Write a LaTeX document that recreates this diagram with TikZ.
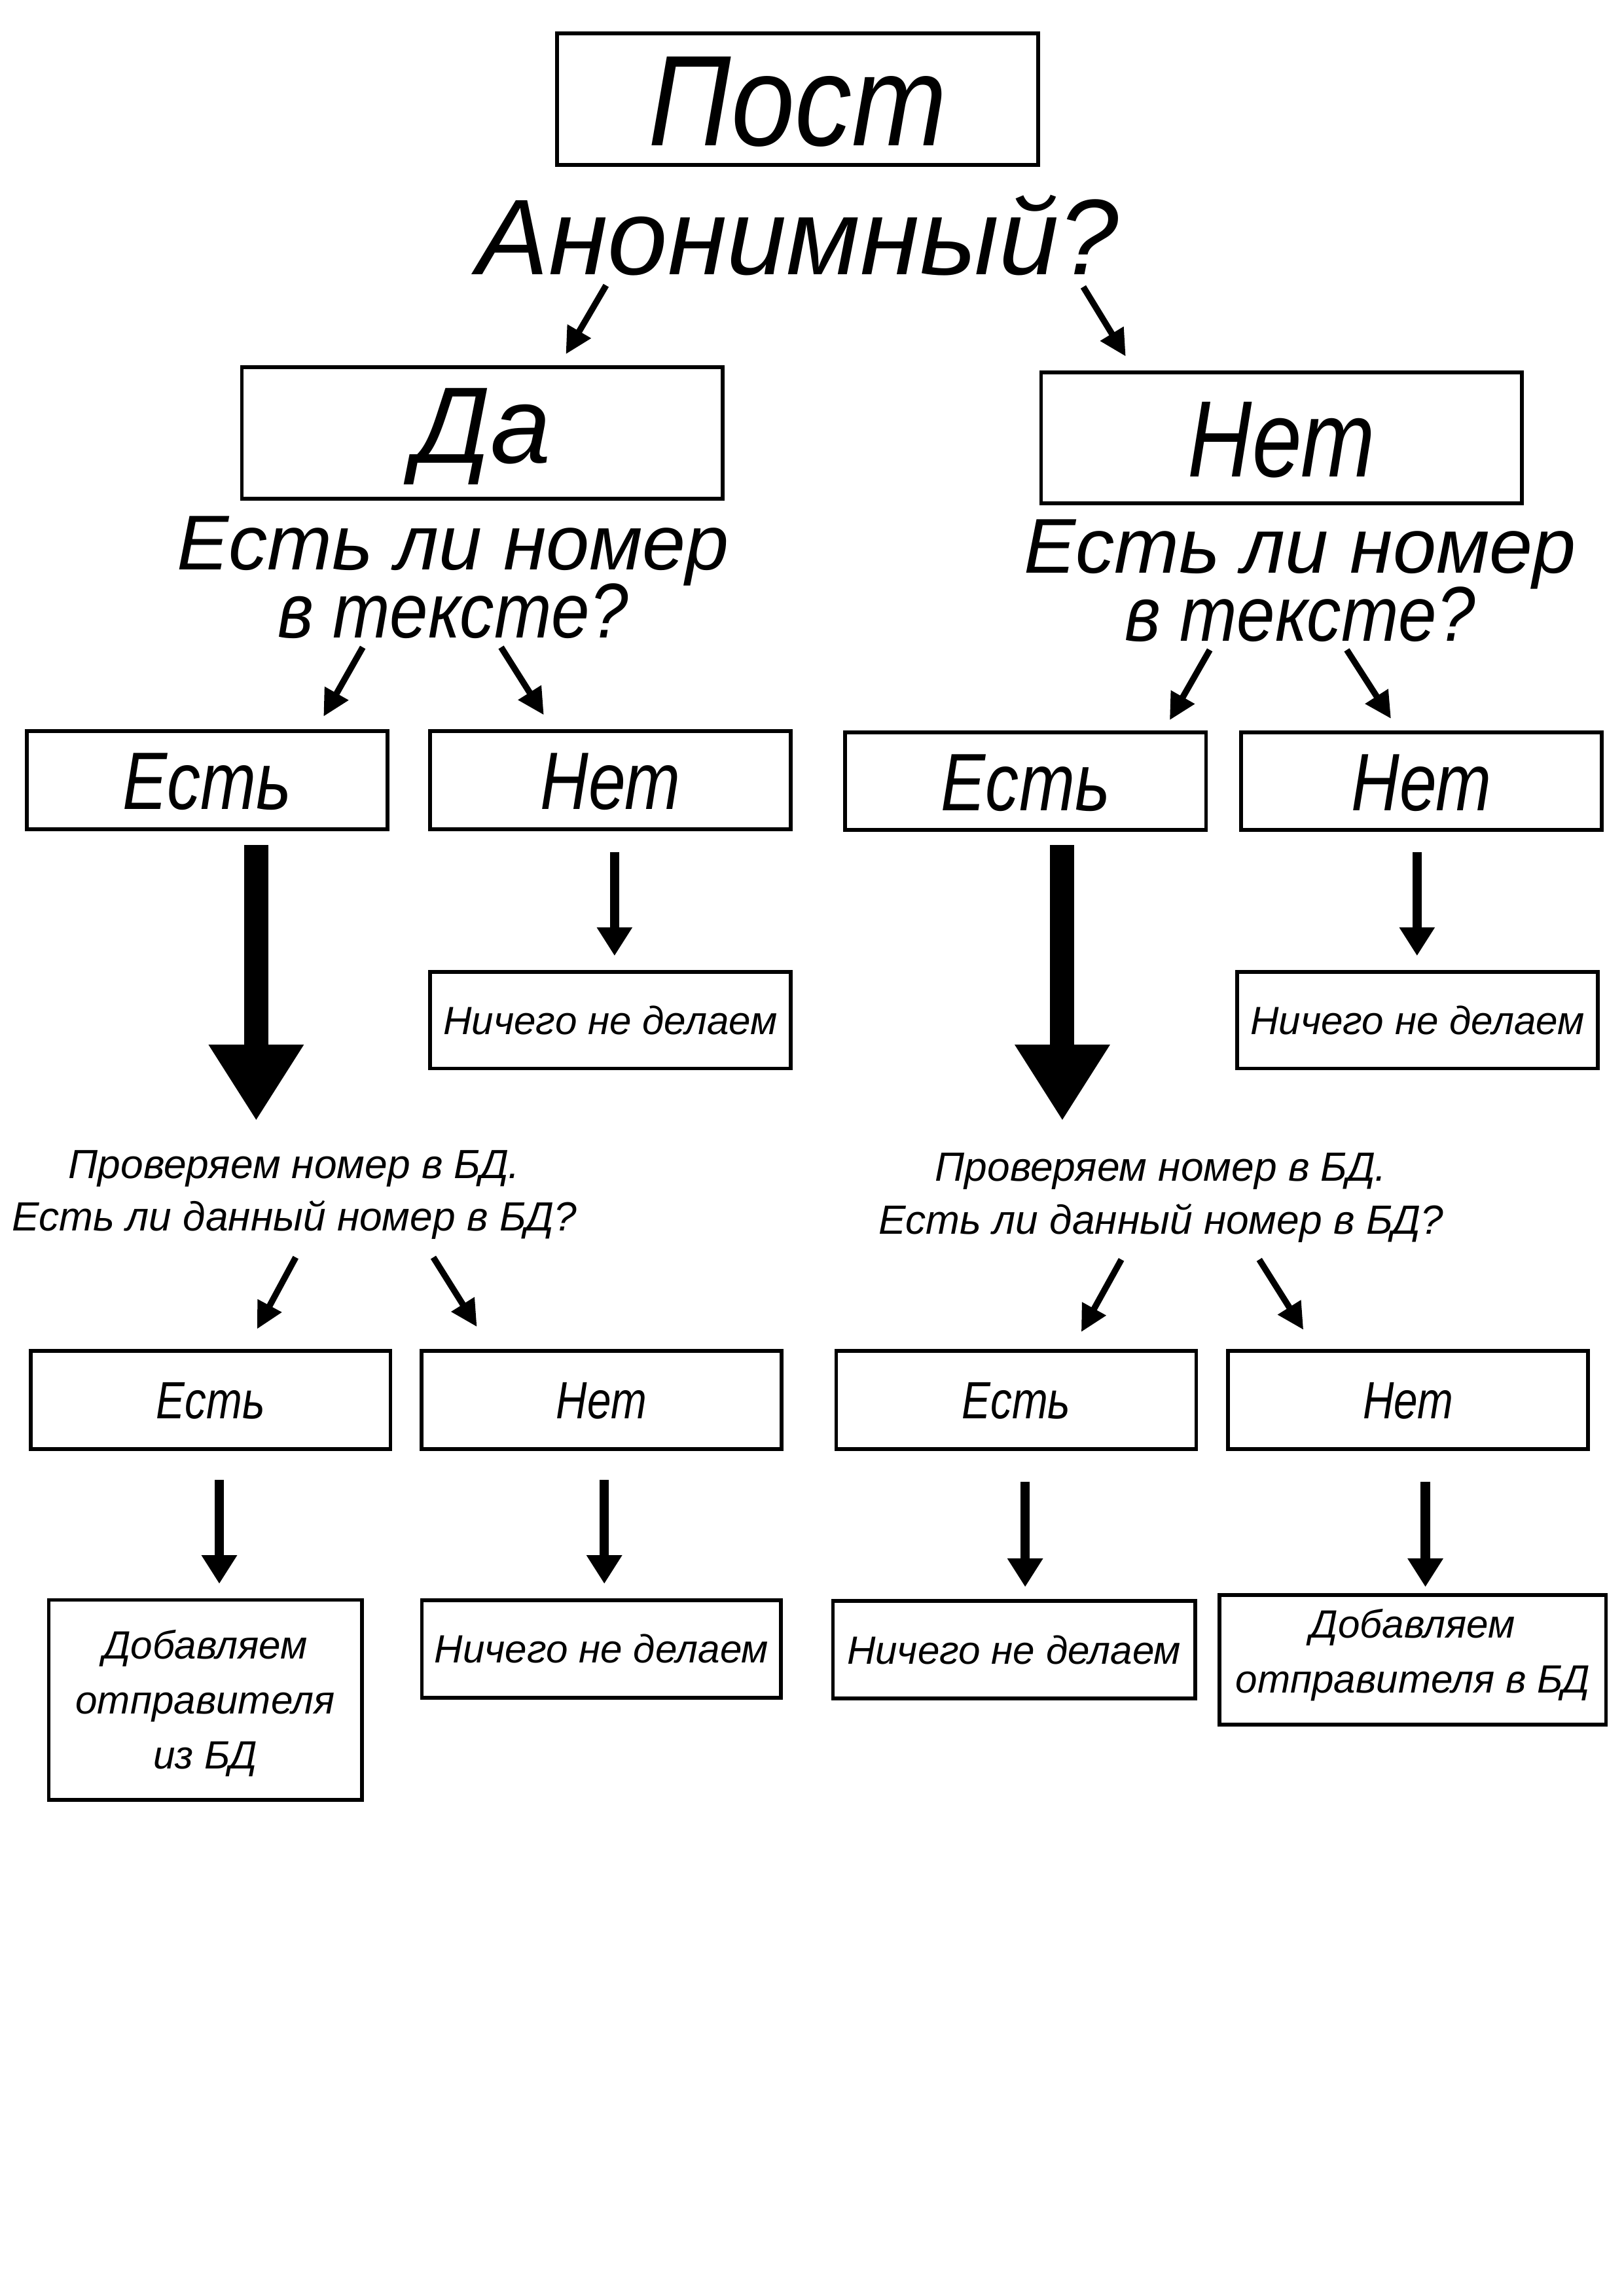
\documentclass[tikz,border=0pt]{standalone}
\usepackage{fontspec}
\setmainfont{Liberation Sans}
\newfontfamily\narA[FakeStretch=0.82]{Liberation Sans}
\newfontfamily\narB[FakeStretch=0.885]{Liberation Sans}
\usetikzlibrary{arrows.meta}
\newcommand\stacklines[2]{\vbox{\baselineskip=#1\lineskiplimit=-100pt\halign{\hfil##\hfil\cr #2\crcr}}}
\begin{document}
\lineskiplimit=-100pt
\begin{tikzpicture}[x=0.5388pt, y=-0.5388pt,
  boxst/.style={draw, line width=1.4pt, inner sep=0pt, align=center, text depth=0pt},
  fA/.style={font=\narB\fontsize{47.5}{57}\selectfont\itshape, text height=34pt},
  fB/.style={font=\fontsize{39.6}{48}\selectfont\itshape},
  fC/.style={font=\fontsize{40}{48}\selectfont\itshape, text height=28.6pt},
  fCn/.style={font=\narA\fontsize{40}{48}\selectfont\itshape, text height=28.6pt},
  fQ/.style={font=\fontsize{28.6}{25}\selectfont\itshape, align=center, inner sep=0pt},
  fD/.style={font=\narA\fontsize{30}{36}\selectfont\itshape, text height=21.5pt},
  fE/.style={font=\fontsize{14.5}{20.2}\selectfont\itshape, text height=10.4pt},
  fP/.style={font=\fontsize{15}{19.4}\selectfont\itshape, align=center, inner sep=0pt},
  fF/.style={font=\narA\fontsize{19.3}{23}\selectfont\itshape, text height=13.8pt},
  arrS/.style={line width=2.3pt, -{Triangle[length=9.8pt, width=9.5pt]}},
  arrM/.style={line width=3.45pt, -{Triangle[length=10.5pt, width=12.4pt]}},
  arrL/.style={line width=8.9pt, -{Triangle[length=28pt, width=33pt]}}
]
\fill[white] (0,0) rectangle (1109,1568.6);
\useasboundingbox (0,0) rectangle (1109,1568.6);

% top
\node[boxst, fA, minimum width=177pt, minimum height=48.4pt] (post) at (544.9,67.8) {Пост};
\node[fB, anchor=base, inner sep=0pt] (anon) at (545,187.6) {Анонимный?};

\node[boxst, fC, text depth=6.6pt, minimum width=177pt, minimum height=48.4pt] (da) at (329.5,295.8) {Да};
\node[boxst, fCn, minimum width=177pt, minimum height=48.2pt] (net) at (875.4,299.2) {Нет};

\node[fQ, anchor=base] (qL) at (309.5,435.8) {Есть ли номер\\{\narB в тексте?}};
\node[fQ, anchor=base] (qR) at (888,438) {Есть ли номер\\{\narB в тексте?}};

% row 3
\node[boxst, fD, minimum width=132.8pt, minimum height=36pt] (lyes) at (141.5,533) {Есть};
\node[boxst, fD, minimum width=132.8pt, minimum height=36pt] (lno) at (417,533) {Нет};
\node[boxst, fD, minimum width=132.8pt, minimum height=36pt] (ryes) at (700.6,533.7) {Есть};
\node[boxst, fD, minimum width=132.8pt, minimum height=36pt] (rno) at (971,533.7) {Нет};

% row 4
\node[boxst, fE, minimum width=132.8pt, minimum height=35.6pt] (lnone) at (417,696.9) {Ничего не делаем};
\node[boxst, fE, minimum width=132.8pt, minimum height=35.6pt] (rnone) at (968.3,696.9) {Ничего не делаем};

\node[fP, anchor=base] (pL) at (201,841) {Проверяем номер в БД.\\Есть ли данный номер в БД?};
\node[fP, anchor=base] (pR) at (793,843) {Проверяем номер в БД.\\Есть ли данный номер в БД?};

% row 5
\node[boxst, fF, minimum width=132.5pt, minimum height=36.2pt] (lyes2) at (143.8,956.4) {Есть};
\node[boxst, fF, minimum width=132.5pt, minimum height=36.2pt] (lno2) at (410.9,956.4) {Нет};
\node[boxst, fF, minimum width=132.5pt, minimum height=36.2pt] (ryes2) at (694.2,956.5) {Есть};
\node[boxst, fF, minimum width=132.5pt, minimum height=36.2pt] (rno2) at (961.9,956.5) {Нет};

% row 6
\node[boxst, fE, text height=50.8pt, text depth=0pt, minimum width=115.2pt, minimum height=73.6pt] (ladd) at (140.2,1161.3)
  {\stacklines{20.2pt}{Добавляем\cr отправителя\cr из БД}};
\node[boxst, fE, minimum width=132.2pt, minimum height=35.8pt] (lnone2) at (410.9,1126.5) {Ничего не делаем};
\node[boxst, fE, minimum width=133.3pt, minimum height=35.9pt] (rnone2) at (692.7,1127) {Ничего не делаем};
\node[boxst, fE, text height=30.6pt, text depth=6.4pt, minimum width=142.2pt, minimum height=47.6pt] (radd) at (965.1,1133.9)
  {\stacklines{20.2pt}{Добавляем\cr отправителя в БД}};

% arrow end points
\coordinate (a1s) at (414,195);     \coordinate (a1e) at (386.5,242);
\coordinate (a2s) at (740,196);     \coordinate (a2e) at (769,243.5);
\coordinate (a3s) at (247.8,442.2); \coordinate (a3e) at (221,489.5);
\coordinate (a4s) at (342.3,442.2); \coordinate (a4e) at (371.5,488.5);
\coordinate (a5s) at (826.4,444);   \coordinate (a5e) at (799,492);
\coordinate (a6s) at (920,444);     \coordinate (a6e) at (950.2,491);
\coordinate (bLs) at (175,577.3);   \coordinate (bLe) at (175,765.7);
\coordinate (bRs) at (725.7,577.3); \coordinate (bRe) at (725.7,765.7);
\coordinate (mLs) at (419.8,582);   \coordinate (mLe) at (419.8,653);
\coordinate (mRs) at (968,582);     \coordinate (mRe) at (968,653);
\coordinate (a7s) at (202,859);     \coordinate (a7e) at (175.6,908);
\coordinate (a8s) at (296,859);     \coordinate (a8e) at (325.8,906.5);
\coordinate (a9s) at (766,860.5);   \coordinate (a9e) at (738.6,910);
\coordinate (a10s) at (860.2,860.5); \coordinate (a10e) at (890.4,908.5);
\coordinate (c1s) at (149.8,1011);  \coordinate (c1e) at (149.8,1082);
\coordinate (c2s) at (412.8,1011);  \coordinate (c2e) at (412.8,1082);
\coordinate (c3s) at (700.3,1012.3); \coordinate (c3e) at (700.3,1084.2);
\coordinate (c4s) at (973.7,1012.3); \coordinate (c4e) at (973.7,1084.2);

\draw[arrS] (a1s) -- (a1e);
\draw[arrS] (a2s) -- (a2e);
\draw[arrS] (a3s) -- (a3e);
\draw[arrS] (a4s) -- (a4e);
\draw[arrS] (a5s) -- (a5e);
\draw[arrS] (a6s) -- (a6e);
\draw[arrL] (bLs) -- (bLe);
\draw[arrL] (bRs) -- (bRe);
\draw[arrM] (mLs) -- (mLe);
\draw[arrM] (mRs) -- (mRe);
\draw[arrS] (a7s) -- (a7e);
\draw[arrS] (a8s) -- (a8e);
\draw[arrS] (a9s) -- (a9e);
\draw[arrS] (a10s) -- (a10e);
\draw[arrM] (c1s) -- (c1e);
\draw[arrM] (c2s) -- (c2e);
\draw[arrM] (c3s) -- (c3e);
\draw[arrM] (c4s) -- (c4e);
\end{tikzpicture}
\end{document}
